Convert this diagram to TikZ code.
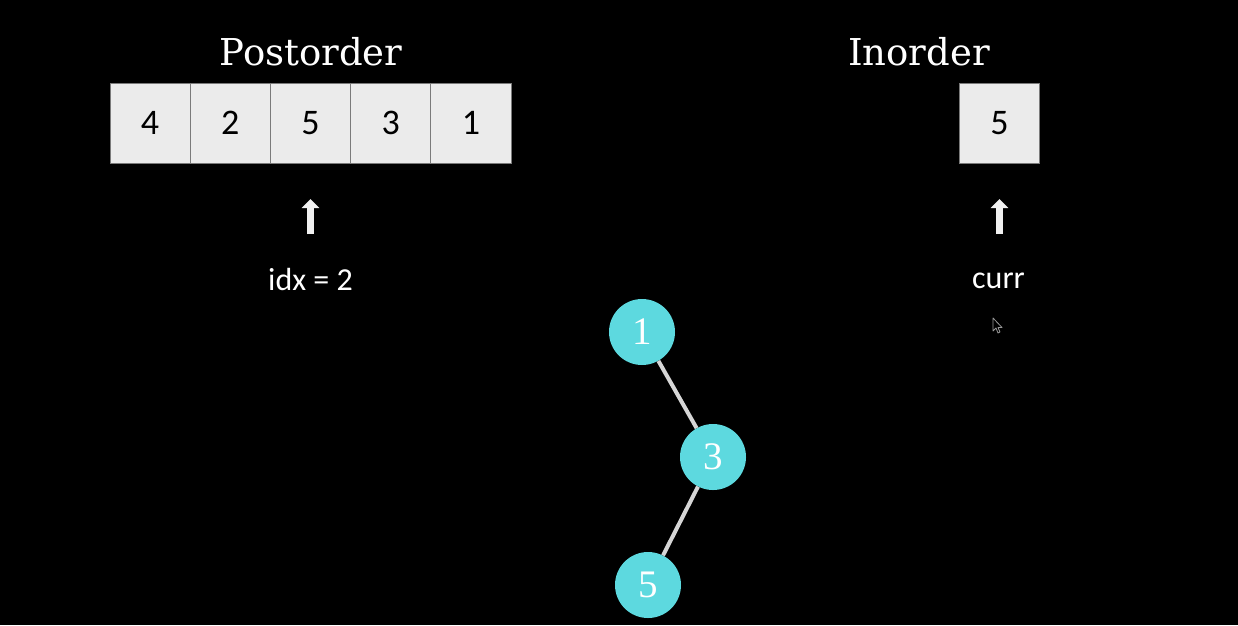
\documentclass[tikz,border=0pt]{standalone}
\usepackage{fontspec}
\setsansfont{Carlito}
\newfontfamily\titlefont{DejaVu Serif}
\newfontfamily\digitfont{Liberation Serif}
\usetikzlibrary{arrows.meta}
\definecolor{cellfill}{HTML}{EBEBEB}
\definecolor{cellline}{HTML}{7A7A7A}
\definecolor{treecyan}{HTML}{5DD9DF}
\definecolor{edgegray}{HTML}{D6D6D6}
\definecolor{arrowwhite}{HTML}{F0F0F0}
\tikzset{
  cell/.style={draw=cellline, fill=cellfill, line width=1pt, minimum width=80.2pt, minimum height=80pt, inner sep=0pt, font=\sffamily\fontsize{36}{40}\selectfont, text=black},
  title/.style={anchor=base, text=white, inner sep=0pt, font=\titlefont\fontsize{37}{42}\selectfont},
  label/.style={anchor=base, text=white, inner sep=0pt, font=\sffamily\fontsize{32}{36}\selectfont},
  treenode/.style={circle, fill=treecyan, minimum size=66pt, inner sep=0pt, text=white, font=\digitfont\fontsize{39}{42}\selectfont},
  edge/.style={draw=edgegray, line width=4pt},
  pointer/.style={draw=arrowwhite, line width=7pt, -{Triangle[width=17pt,length=9pt]}},
}
\begin{document}
\begin{tikzpicture}[x=1pt,y=-1pt]
\fill[black] (0,0) rectangle (1238,625);
\useasboundingbox (0,0) rectangle (1238,625);

\node[title] (posttitle) at (311,65) {Postorder};
\node[title] (intitle) at (919,65) {Inorder};

\node[cell] (p0) at (150.1,123) {4};
\node[cell] (p1) at (230.3,123) {2};
\node[cell] (p2) at (310.5,123) {5};
\node[cell] (p3) at (390.7,123) {3};
\node[cell] (p4) at (470.9,123) {1};

\node[cell] (i0) at (999.5,123) {5};

\coordinate (pa0) at (310.5,234);
\coordinate (pa1) at (310.5,199);
\draw[pointer] (pa0) -- (pa1);
\coordinate (ia0) at (999.5,234);
\coordinate (ia1) at (999.5,199);
\draw[pointer] (ia0) -- (ia1);

\node[label] (idx) at (310.5,290) {idx = 2};
\node[label] (curr) at (998.5,288) {curr};

\node[treenode] (n1) at (642,332) {1};
\node[treenode] (n3) at (713,457) {3};
\node[treenode] (n5) at (648,585) {5};
\draw[edge] (n1) -- (n3);
\draw[edge] (n3) -- (n5);

% mouse cursor
\filldraw[fill=black, draw=gray!80, line width=0.8pt, line join=round]
  (993,318) -- (993,331) -- (996,328) -- (998,333) -- (1000,332) -- (998,327.5) -- (1002,327.5) -- cycle;
\end{tikzpicture}
\end{document}
